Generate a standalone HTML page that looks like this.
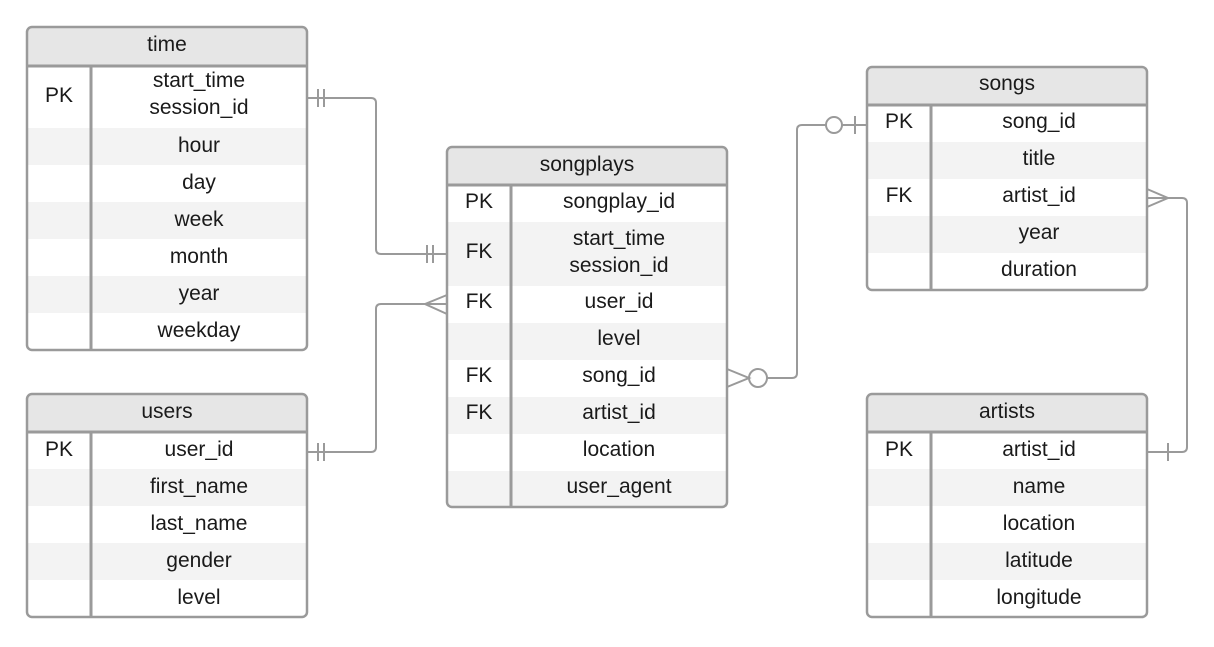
<!DOCTYPE html>
<html><head><meta charset="utf-8"><style>
html,body{margin:0;padding:0;background:#fff;width:1214px;height:647px;overflow:hidden}
svg text{font-family:"Liberation Sans",Arial,sans-serif;font-size:21px;fill:#1a1a1a;text-anchor:middle}
</style></head><body>
<svg width="1214" height="647" viewBox="0 0 1214 647" xmlns="http://www.w3.org/2000/svg">
<g fill="none" stroke="#9a9a9a" stroke-width="2">
<path d="M307 98 H371 Q376 98 376 103 V249 Q376 254 381 254 H447"/>
<path d="M318 89 V107 M324 89 V107 M427 245 V263 M433 245 V263"/>
<path d="M307 452 H371 Q376 452 376 447 V309 Q376 304 381 304 H447"/>
<path d="M318 443 V461 M324 443 V461 M447 295 L425 304 L447 314"/>
<path d="M767 378 H792 Q797 378 797 373 V130 Q797 125 802 125 H826 M842 125 H867"/>
<circle cx="758" cy="378" r="9" fill="#fff"/>
<circle cx="834" cy="125" r="8" fill="#fff"/>
<path d="M727 369 L749 378 L727 387 M855 116 V134"/>
<path d="M1147 198 H1182 Q1187 198 1187 203 V447 Q1187 452 1182 452 H1147"/>
<path d="M1147 189 L1168 198 L1147 207 M1168 443 V461"/>
</g>

<g transform="translate(0,-1)">
<g>
<rect x="27" y="28" width="280" height="323" rx="5" fill="#fff"/>
<rect x="27" y="28" width="280" height="39" rx="5" fill="#e6e6e6"/>
<rect x="27" y="129" width="280" height="37" fill="#f3f3f3"/>
<rect x="27" y="203" width="280" height="37" fill="#f3f3f3"/>
<rect x="27" y="277" width="280" height="37" fill="#f3f3f3"/>
<path d="M27 67 H307 M91 67 V351" stroke="#9a9a9a" stroke-width="3" fill="none"/>
<rect x="27" y="28" width="280" height="323" rx="5" fill="none" stroke="#9a9a9a" stroke-width="2.5"/>
</g>
</g>
<g>
<text x="167" y="51">time</text>
<text x="59" y="102">PK</text>
<text x="199" y="87">start_time</text>
<text x="199" y="114">session_id</text>
<text x="199" y="152">hour</text>
<text x="199" y="189">day</text>
<text x="199" y="226">week</text>
<text x="199" y="263">month</text>
<text x="199" y="300">year</text>
<text x="199" y="337">weekday</text>
</g>

<g>
<rect x="27" y="394" width="280" height="223" rx="5" fill="#fff"/>
<rect x="27" y="394" width="280" height="38" rx="5" fill="#e6e6e6"/>
<rect x="27" y="469" width="280" height="37" fill="#f3f3f3"/>
<rect x="27" y="543" width="280" height="37" fill="#f3f3f3"/>
<path d="M27 432 H307 M91 432 V617" stroke="#9a9a9a" stroke-width="3" fill="none"/>
<rect x="27" y="394" width="280" height="223" rx="5" fill="none" stroke="#9a9a9a" stroke-width="2.5"/>
<text x="167" y="418">users</text>
<text x="59" y="456">PK</text>
<text x="199" y="456">user_id</text>
<text x="199" y="493">first_name</text>
<text x="199" y="530">last_name</text>
<text x="199" y="567">gender</text>
<text x="199" y="604">level</text>
</g>

<g>
<rect x="447" y="147" width="280" height="360" rx="5" fill="#fff"/>
<rect x="447" y="147" width="280" height="38" rx="5" fill="#e6e6e6"/>
<rect x="447" y="222" width="280" height="64" fill="#f3f3f3"/>
<rect x="447" y="323" width="280" height="37" fill="#f3f3f3"/>
<rect x="447" y="397" width="280" height="37" fill="#f3f3f3"/>
<rect x="447" y="471" width="280" height="36" fill="#f3f3f3"/>
<path d="M447 185 H727 M511 185 V507" stroke="#9a9a9a" stroke-width="3" fill="none"/>
<rect x="447" y="147" width="280" height="360" rx="5" fill="none" stroke="#9a9a9a" stroke-width="2.5"/>
<text x="587" y="171">songplays</text>
<text x="479" y="208">PK</text><text x="619" y="208">songplay_id</text>
<text x="479" y="258">FK</text><text x="619" y="245">start_time</text><text x="619" y="272">session_id</text>
<text x="479" y="308">FK</text><text x="619" y="308">user_id</text>
<text x="619" y="345">level</text>
<text x="479" y="382">FK</text><text x="619" y="382">song_id</text>
<text x="479" y="419">FK</text><text x="619" y="419">artist_id</text>
<text x="619" y="456">location</text>
<text x="619" y="493">user_agent</text>
</g>

<g>
<rect x="867" y="67" width="280" height="223" rx="5" fill="#fff"/>
<rect x="867" y="67" width="280" height="38" rx="5" fill="#e6e6e6"/>
<rect x="867" y="142" width="280" height="37" fill="#f3f3f3"/>
<rect x="867" y="216" width="280" height="37" fill="#f3f3f3"/>
<path d="M867 105 H1147 M931 105 V290" stroke="#9a9a9a" stroke-width="3" fill="none"/>
<rect x="867" y="67" width="280" height="223" rx="5" fill="none" stroke="#9a9a9a" stroke-width="2.5"/>
<text x="1007" y="90">songs</text>
<text x="899" y="128">PK</text><text x="1039" y="128">song_id</text>
<text x="1039" y="165">title</text>
<text x="899" y="202">FK</text><text x="1039" y="202">artist_id</text>
<text x="1039" y="239">year</text>
<text x="1039" y="276">duration</text>
</g>

<g>
<rect x="867" y="394" width="280" height="223" rx="5" fill="#fff"/>
<rect x="867" y="394" width="280" height="38" rx="5" fill="#e6e6e6"/>
<rect x="867" y="469" width="280" height="37" fill="#f3f3f3"/>
<rect x="867" y="543" width="280" height="37" fill="#f3f3f3"/>
<path d="M867 432 H1147 M931 432 V617" stroke="#9a9a9a" stroke-width="3" fill="none"/>
<rect x="867" y="394" width="280" height="223" rx="5" fill="none" stroke="#9a9a9a" stroke-width="2.5"/>
<text x="1007" y="418">artists</text>
<text x="899" y="456">PK</text><text x="1039" y="456">artist_id</text>
<text x="1039" y="493">name</text>
<text x="1039" y="530">location</text>
<text x="1039" y="567">latitude</text>
<text x="1039" y="604">longitude</text>
</g>
</svg>
</body></html>
